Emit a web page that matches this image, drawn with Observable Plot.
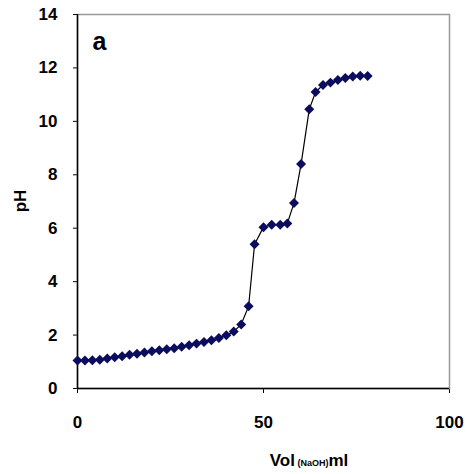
<!DOCTYPE html>
<html>
<head>
<meta charset="utf-8">
<script src="https://cdn.jsdelivr.net/npm/d3@7"></script>
<script src="https://cdn.jsdelivr.net/npm/@observablehq/plot@0.6"></script>
<style>
  html, body { margin: 0; padding: 0; background: #fff; }
</style>
</head>
<body>
<div id="chart"></div>
<script>
const volume = [0, 2, 4, 6, 8, 10, 12, 14, 16, 18, 20, 22, 24, 26, 28, 30, 32, 34, 36, 38, 40, 42, 44, 46, 47.6, 50, 52.2, 54.5, 56.4, 58.2, 60.1, 62.3, 64, 66, 68, 70, 72, 74, 76, 78];
const pH = [1.05, 1.05, 1.06, 1.08, 1.12, 1.17, 1.21, 1.26, 1.30, 1.35, 1.39, 1.43, 1.47, 1.51, 1.56, 1.62, 1.68, 1.74, 1.81, 1.89, 1.99, 2.13, 2.40, 3.08, 5.40, 6.04, 6.13, 6.13, 6.18, 6.94, 8.40, 10.45, 11.10, 11.36, 11.45, 11.55, 11.62, 11.68, 11.71, 11.70];
const xTicks = [0, 50, 100];
const yTicks = [0, 2, 4, 6, 8, 10, 12, 14];
const panelLabel = "a";
const xLabelParts = ["Vol", " (NaOH)", "ml"];
const yLabel = "pH";

const data = volume.map((v, i) => ({vol: v, pH: pH[i]}));

const chart = Plot.plot({
  width: 467,
  height: 474,
  marginLeft: 77,
  marginRight: 18,
  marginTop: 14,
  marginBottom: 86,
  style: {fontFamily: "'Liberation Sans', Arial, sans-serif", fontSize: "17px", fontWeight: "bold", color: "#000", background: "#fff"},
  x: {domain: [0, 100], ticks: xTicks, tickSize: 5, tickPadding: 22, label: null},
  y: {domain: [0, 14], ticks: yTicks, tickSize: 4, tickPadding: 16, label: null},
  marks: [
    Plot.frame({stroke: "#999", strokeWidth: 1.5}),
    Plot.ruleX([0], {stroke: "#000", strokeWidth: 1.5}),
    Plot.ruleY([0], {stroke: "#000", strokeWidth: 1.5}),
    Plot.line(data, {x: "vol", y: "pH", stroke: "#000", strokeWidth: 1.2}),
    Plot.dot(data, {x: "vol", y: "pH", symbol: "diamond2", r: 4.5, fill: "#0c0c5e", stroke: "none"}),
    Plot.text([panelLabel], {frameAnchor: "top-left", dx: 15, dy: 18, fontSize: 25, fontWeight: "bold", fill: "#000"})
  ]
});

const svg = d3.select(chart);
const t = svg.append("text")
  .attr("x", 309)
  .attr("y", 466)
  .attr("fill", "#000")
  .attr("font-weight", "bold");
t.append("tspan").attr("font-size", 17).text(xLabelParts[0]);
t.append("tspan").attr("font-size", 9).text(xLabelParts[1]);
t.append("tspan").attr("font-size", 17).text(xLabelParts[2]);

svg.append("text")
  .attr("transform", "translate(26,201) rotate(-90)")
  .attr("text-anchor", "middle")
  .attr("font-size", 17)
  .attr("font-weight", "bold")
  .attr("fill", "#000")
  .text(yLabel);

document.getElementById("chart").appendChild(chart);
</script>
</body>
</html>
